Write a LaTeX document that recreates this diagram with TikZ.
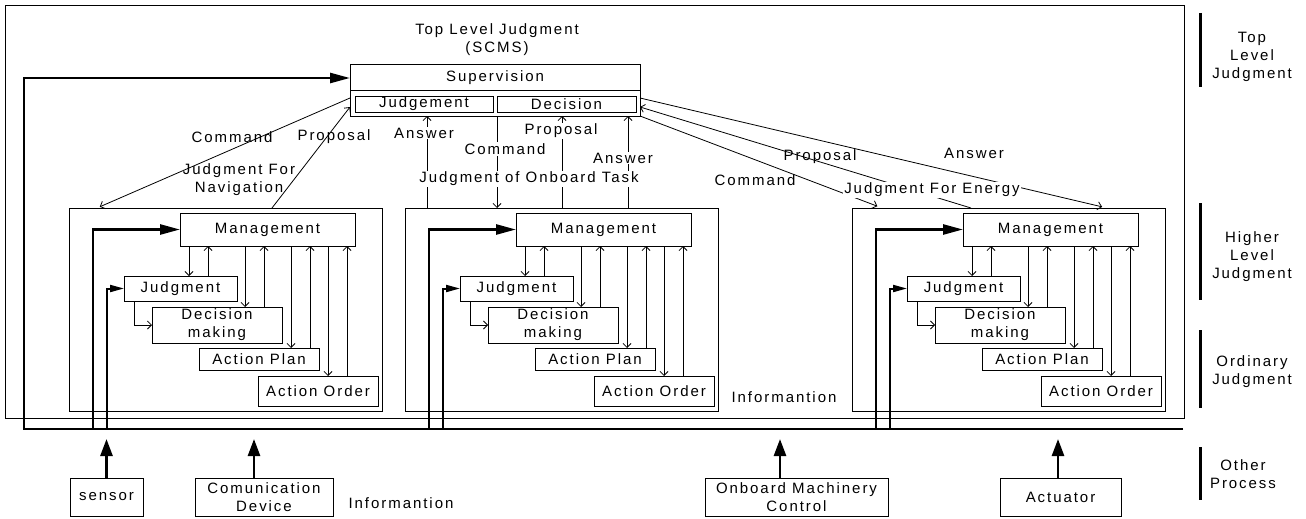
\documentclass[tikz,border=0pt]{standalone}
\usepackage{fontspec}
\setmainfont[LetterSpace=13]{Liberation Sans}
\usetikzlibrary{arrows.meta}

\begin{document}
\begin{tikzpicture}[x=1pt, y=-1pt,
every node/.style = {font=\fontsize{15}{18}\selectfont, inner sep=0pt, outer sep=0pt},
      blk/.style = {rectangle, draw, line width=0.9pt, align=center},% boxes with text
     wrap/.style = {rectangle, draw, line width=1pt},% frames round a group
     link/.style = {line width=0.8pt, -{Straight Barb[length=4pt,width=8pt]}},
      bus/.style = {line width=2.6pt},
     feed/.style = {line width=2.6pt, -{Triangle[length=20pt,width=10pt]}},
    jfeed/.style = {line width=2pt, -{Triangle[length=14pt,width=7pt]}},
   upfeed/.style = {line width=2.6pt, -{Triangle[length=17pt,width=12pt]}},
      lbl/.style = {fill=white, inner sep=1pt, align=center},
     note/.style = {align=center},
      lvl/.style = {line width=3pt},
                    ]
\useasboundingbox (0,0) rectangle (1306,519);
% ship frame, bus
\node[wrap, minimum width=1179pt, minimum height=412pt] (ship) at (594.5,212) {};
\coordinate (busL) at (24,429);
\coordinate (busR) at (1183,429);

% top level judgment
\node[note] (title) at (497,40) {Top Level Judgment\\(SCMS)};
\node[wrap, minimum width=290pt, minimum height=51pt] (sup) at (495,90.5) {};
\node (suptxt) at (495,78) {Supervision};
\draw[line width=0.9pt] (sup.west) -- (sup.east);
\node[blk, minimum width=138pt, minimum height=16pt] (sjud) at (424,104) {Judgement};
\node[blk, minimum width=139pt, minimum height=16pt] (sdec) at (566.5,104) {Decision};

% the three higher level modules
\foreach \m/\X in {1/69, 2/405, 3/852} {
  \node[wrap, minimum width=313.5pt, minimum height=203pt] (B\m) at (\X+156.75, 309.5) {};
  \node[blk, minimum width=175pt, minimum height=33pt] (M\m) at (\X+198.5, 229.5) {Management};
  \node[blk, minimum width=113pt, minimum height=25pt] (J\m) at (\X+111.5, 288.5) {Judgment};
  \node[blk, minimum width=130pt, minimum height=36pt] (D\m) at (\X+148, 325) {Decision\\making};
  \node[blk, minimum width=120pt, minimum height=22pt] (P\m) at (\X+190, 359) {Action Plan};
  \node[blk, minimum width=120pt, minimum height=30pt] (O\m) at (\X+249, 391) {Action Order};
  \foreach \t/\a/\b in {J/9/28, D/65/84, P/111/130, O/148/167} {
    \draw[link] ([xshift=\a]M\m.south west) -- ([xshift=\a]M\m.south west |- \t\m.north);
    \draw[link] ([xshift=\b]M\m.south west |- \t\m.north) -- ([xshift=\b]M\m.south west);
  }
  \draw[link] ([xshift=10]J\m.south west) |- (D\m.west);
  \draw[feed] ([xshift=-87]M\m.west |- busL) |- (M\m.west);
  \draw[jfeed] ([xshift=-17]J\m.west |- busL) |- (J\m.west);
}

% bus to supervision
\draw[feed] (busR) -- (busL) |- (sup.west |- suptxt.center);

% navigation
\draw[link, shorten >=3pt] ([yshift=-7.5]sup.west) -- ([xshift=28]B1.north west);
\draw[link] ([xshift=203]B1.north west) -- ([yshift=-16.5]sup.west);
% onboard task
\draw[link] ([xshift=22]B2.north west) -- ([xshift=22]B2.north west |- sup.south);
\draw[link] ([xshift=92]B2.north west |- sup.south) -- ([xshift=92]B2.north west);
\draw[link] ([xshift=157]B2.north west) -- ([xshift=157]B2.north west |- sup.south);
\draw[link] ([xshift=223]B2.north west) -- ([xshift=223]B2.north west |- sup.south);
% energy
\draw[link, shorten >=5pt] ([yshift=-7.5]sup.east) -- ([xshift=255]B3.north west);
\draw[link] ([xshift=119]B3.north west) -- ([yshift=-16.5]sup.east);
\draw[link, shorten >=5pt] (sup.south east) -- ([xshift=30]B3.north west);

% labels on the links
\node (ncmd) at (232,137) {Command};
\node (nprp) at (334,137) {Proposal};
\node[note] (nav) at (239,180) {Judgment For\\Navigation};
\node[lbl] (tans1) at (424,133) {Answer};
\node[lbl] (tcmd) at (505,149) {Command};
\node[lbl] (tprp) at (561,131) {Proposal};
\node[lbl] (tans2) at (623,158) {Answer};
\node[lbl] (task) at (529,179) {Judgment of Onboard Task};
\node (eprp) at (820,157) {Proposal};
\node (ecmd) at (755,180) {Command};
\node (eans) at (974,153) {Answer};
\node[lbl] (energy) at (932,190) {Judgment For Energy};
\node (info1) at (784,397) {Informantion};

% other process
\node[blk, minimum width=73pt, minimum height=38pt] (sensor) at (106.5,497) {sensor};
\node[blk, minimum width=138pt, minimum height=38pt] (comm) at (264,497) {Comunication\\Device};
\node[blk, minimum width=183pt, minimum height=38pt] (omc) at (796.5,497) {Onboard Machinery\\Control};
\node[blk, minimum width=121pt, minimum height=38pt] (act) at (1060.5,497) {Actuator};
\node (info2) at (401,503) {Informantion};
\draw[upfeed] (sensor.north) -- ([yshift=-10]sensor.north |- busL);
\draw[upfeed] ([xshift=-10]comm.north) -- ([xshift=-10,yshift=-10]comm.north |- busL);
\draw[upfeed] ([xshift=-16.5]omc.north) -- ([xshift=-16.5,yshift=-10]omc.north |- busL);
\draw[upfeed] ([xshift=-2.5]act.north) -- ([xshift=-2.5,yshift=-10]act.north |- busL);

% level marks
\draw[lvl] (1200,13) -- (1200,87);
\node[note] (lv1) at (1252,57) {Top\\Level\\Judgment};
\draw[lvl] (1200,203) -- (1200,300);
\node[note] (lv2) at (1252,257) {Higher\\Level\\Judgment};
\draw[lvl] (1200,330) -- (1200,408);
\node[note] (lv3) at (1252,372) {Ordinary\\Judgment};
\draw[lvl] (1200,447) -- (1200,500);
\node[note] (lv4) at (1243,474) {Other\\Process};
\end{tikzpicture}
\end{document}
